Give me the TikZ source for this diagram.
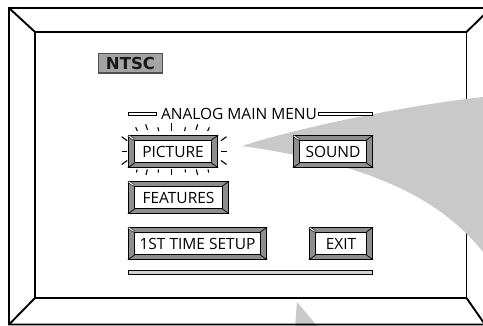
\documentclass[tikz,border=0pt]{standalone}
\usepackage{fontspec}
\setmainfont{Open Sans}
\newfontfamily\ntscfont{DejaVu Sans}
\definecolor{fangray}{HTML}{C9C9C9}
\definecolor{bevgray}{HTML}{8E8E8E}
\definecolor{ntscgray}{HTML}{A4A4A4}
\definecolor{ntscedge}{HTML}{505050}
\definecolor{bargray}{HTML}{D2D2D2}
\newcommand\menubtn[5]{%
  \node[bevel, minimum width=#4pt] (#1) at (#2,#3) {};
  \node[face, minimum width=#4pt-13pt] (#1-f) at (#2,#3) {#5};
  \draw[cornerline] (#1.north east) -- (#1-f.north east);
  \draw[cornerline] (#1.south east) -- (#1-f.south east);
  \draw[cornerline] (#1.south west) -- (#1-f.south west);
  \draw[cornerline, line width=2.2pt, shorten >=0.6pt, shorten <=0.6pt] (#1.north west) -- (#1-f.north west);
  \draw[white, line width=1.1pt, shorten >=1pt, shorten <=1pt] (#1.north west) -- (#1-f.north west);
}
\begin{document}
\begin{tikzpicture}[x=1pt,y=-1pt,
  frameline/.style={line width=1.9pt, line join=miter},
  bevel/.style={draw=black, line width=0.9pt, fill=bevgray, inner sep=0pt, minimum height=31.6pt},
  face/.style={draw=black, line width=0.7pt, fill=white, inner sep=0pt, minimum height=22.6pt, font=\fontsize{15.5}{15.5}\selectfont},
  cornerline/.style={line width=0.7pt},
  ray/.style={line width=1.1pt},
  menubar/.style={draw=black, line width=0.7pt, fill=#1, inner sep=0pt},
  menubar/.default=white
]
\useasboundingbox (0,0) rectangle (483,326);
\clip (0,0) rectangle (483,326);

% bottom gray wedge
\fill[fangray] (297,302) -- (318,327) -- (295,327) -- cycle;

% frame
\coordinate (oTL) at (9,8);
\coordinate (oBL) at (9,324.5);
\coordinate (oTR) at (491,8);
\coordinate (oBR) at (485,324.5);
\coordinate (iTL) at (35,32);
\coordinate (iBL) at (35,298);
\coordinate (iTR) at (466.5,32);
\coordinate (iBR) at (466.5,298);
\draw[frameline] (oTR) -- (oTL) -- (oBL) -- (oBR) -- cycle;
\draw[frameline] (iTL) -- (iTR) -- (iBR) -- (iBL) -- cycle;
\draw[frameline] (oTL) -- (iTL);
\draw[frameline] (oBL) -- (iBL);
\draw[frameline] (oTR) -- (iTR);
\draw[frameline] (oBR) -- (iBR);

% big gray fan
\coordinate (tip) at (242,146);
\fill[fangray] (tip) .. controls (290,130) and (400,106) .. (483,97) -- (492,96) -- (492,262)
  -- (483,252) .. controls (430,185) and (340,160) .. (tip) -- cycle;

% NTSC
\node[draw=ntscedge, line width=1.3pt, fill=ntscgray, minimum width=63.6pt, minimum height=19.7pt, inner sep=0pt,
  font=\ntscfont\bfseries\fontsize{16.5}{16.5}\selectfont, text=black!90] (ntsc) at (130.5,63.2) {NTSC};

% title
\node[inner sep=0pt, font=\fontsize{15.5}{15.5}\selectfont] (title) at (239,113.8) {ANALOG MAIN MENU};
\node[menubar, minimum width=28.4pt, minimum height=2.6pt] (tbl) at (142.5,114) {};
\node[menubar, minimum width=54.4pt, minimum height=2.6pt] (tbr) at (345.5,114) {};

% buttons
\menubtn{pic}{173}{151.5}{89.4}{PICTURE}
\menubtn{snd}{333}{151.5}{79.4}{SOUND}
\menubtn{feat}{178.5}{197.5}{100.4}{FEATURES}
\menubtn{setup}{197.5}{243.5}{138.4}{1ST TIME SETUP}
\menubtn{exit}{341}{243.5}{63.4}{EXIT}

% bottom bar
\node[menubar=bargray, minimum width=244.4pt, minimum height=3.3pt] (bbar) at (250.5,272.3) {};

% glow rays around PICTURE
\draw[ray] (135.7,127.3) -- (137.3,131);
\draw[ray] (145.7,124.3) -- (147.5,130);
\draw[ray] (157.8,127.3) -- (158.8,131);
\draw[ray] (171.7,123.3) -- (171.7,131);
\draw[ray] (185.5,127.3) -- (184.5,131);
\draw[ray] (197.7,124.3) -- (195.9,130);
\draw[ray] (209.3,127.3) -- (207.7,131);
\draw[ray] (137.2,169.5) -- (136.4,172.5);
\draw[ray] (147.3,169.5) -- (146.0,175);
\draw[ray] (158.5,169.5) -- (158.2,172.5);
\draw[ray] (171.7,169.5) -- (171.7,175);
\draw[ray] (185.2,169.5) -- (185.5,172.5);
\draw[ray] (196.3,169.5) -- (197.6,175);
\draw[ray] (208,169.5) -- (208.8,172.5);
\draw[ray] (121.7,136.7) -- (127.2,140.7);
\draw[ray] (121.7,151.7) -- (126.7,151.7);
\draw[ray] (121.7,164.5) -- (127.2,160.5);
\draw[ray] (221,140.7) -- (226.5,136.7);
\draw[ray] (221,151.7) -- (226.5,151.7);
\draw[ray] (221,160.5) -- (226.5,164.5);
\end{tikzpicture}
\end{document}
